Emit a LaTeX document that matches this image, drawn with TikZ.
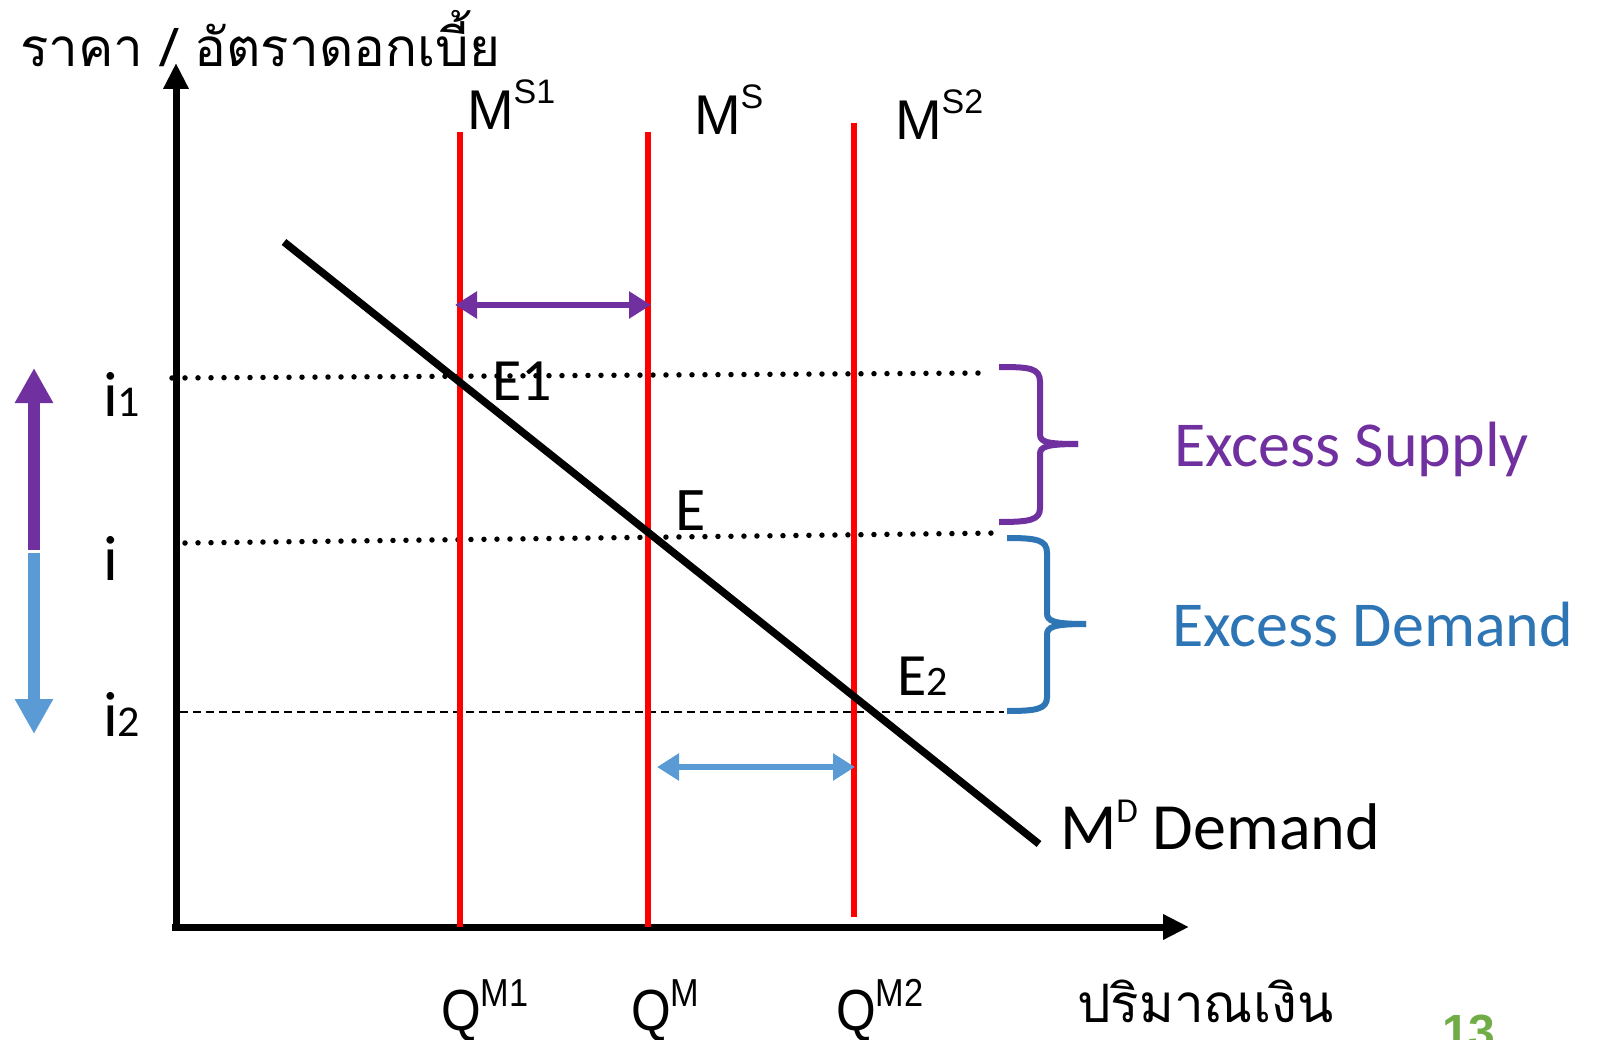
\documentclass[tikz,border=0pt]{standalone}
\usepackage{fontspec}
\usepackage{graphicx}
\setmainfont{Carlito}
\newfontfamily\thaifont[Script=Thai]{Loma}
\newfontfamily\arialfont{Liberation Sans}
\usetikzlibrary{arrows.meta}
\definecolor{mpurple}{HTML}{7030A0}
\definecolor{lblue}{HTML}{5B9BD5}
\definecolor{dblue}{HTML}{2E75B6}
\definecolor{mgreen}{HTML}{70AD47}
\newcommand{\fs}[1]{\fontsize{#1}{#1}\selectfont}
\newcommand{\msup}[4]{#1{\fs{#3}\raisebox{#4pt}{#2}}}
\begin{document}
\begin{tikzpicture}[x=1pt,y=-1pt,
  lbl/.style={anchor=base west,inner sep=0pt,outer sep=0pt},
  axisline/.style={line width=7pt,-{Triangle[length=26pt,width=24pt]}},
  supplyline/.style={line width=6pt,red},
  demandline/.style={line width=7.5pt,black},
  dotline/.style={line width=5.5pt,line cap=round,dash pattern=on 0pt off 13pt},
  dashline/.style={line width=2pt,dash pattern=on 8pt off 5pt},
  harrow/.style={line width=6pt,{Triangle[length=22pt,width=26pt]}-{Triangle[length=22pt,width=26pt]}},
  varrow/.style={line width=12pt,-{Triangle[length=35pt,width=36pt]}},
  bracepath/.style={line width=6pt,line cap=butt}]
\useasboundingbox (0,0) rectangle (1598,1040);
% axes
\coordinate (O) at (176,927);
\coordinate (ytop) at (176,63);
\coordinate (xend) at (1189,927);
\coordinate (ybot) at (176,931);
\coordinate (xbeg) at (172,927);
\draw[axisline] (ybot) -- (ytop);
\draw[axisline] (xbeg) -- (xend);
% dotted/dashed levels
\coordinate (i1a) at (172,378); \coordinate (i1b) at (985,373);
\coordinate (i0a) at (185,543); \coordinate (i0b) at (999,533);
\coordinate (i2a) at (180,712); \coordinate (i2b) at (1004,712);
\draw[dotline] (i1a) -- (i1b);
\draw[dotline] (i0a) -- (i0b);
\draw[dashline] (i2a) -- (i2b);
% supply lines
\coordinate (s1t) at (460,132); \coordinate (s1b) at (460,927);
\coordinate (s0t) at (648,132); \coordinate (s0b) at (648,927);
\coordinate (s2t) at (854,123); \coordinate (s2b) at (854,917);
\draw[supplyline] (s1t) -- (s1b);
\draw[supplyline] (s0t) -- (s0b);
\draw[supplyline] (s2t) -- (s2b);
% demand
\coordinate (d1) at (284,242); \coordinate (d2) at (1039,844);
\draw[demandline] (d1) -- (d2);
% horizontal arrows
\coordinate (pa1) at (455,305); \coordinate (pa2) at (651,305);
\draw[harrow,mpurple] (pa1) -- (pa2);
\coordinate (ba1) at (657,767); \coordinate (ba2) at (855,767);
\draw[harrow,lblue] (ba1) -- (ba2);
% vertical arrows left
\coordinate (vm) at (34,550); \coordinate (vup) at (34,368);
\coordinate (vm2) at (34,553); \coordinate (vdn) at (34,734);
\draw[varrow,mpurple] (vm) -- (vup);
\draw[varrow,lblue] (vm2) -- (vdn);
% braces
\draw[bracepath,mpurple] (999,367) .. controls (1030,367) and (1040,368) .. (1040,382) -- (1040,434)
   .. controls (1040,442) and (1046,444) .. (1078,444);
\draw[bracepath,mpurple] (1078,444) .. controls (1046,444) and (1040,447) .. (1040,454) -- (1040,508)
   .. controls (1040,520) and (1030,522) .. (999,522);
\draw[bracepath,dblue] (1007,538) .. controls (1037,538) and (1047,540) .. (1047,553) -- (1047,613)
   .. controls (1047,621) and (1053,624) .. (1086,624);
\draw[bracepath,dblue] (1086,624) .. controls (1053,624) and (1047,627) .. (1047,635) -- (1047,697)
   .. controls (1047,709) and (1037,711) .. (1007,711);
% labels
\node[lbl] (title) at (20,67) {\thaifont\fs{53}ราคา / อัตราดอกเบี้ย};
\node[lbl] (ms1) at (467,130) {\arialfont\fs{56}\msup{M}{S1}{34}{26}};
\node[lbl] (ms0) at (694,135) {\arialfont\fs{56}\msup{M}{S}{34}{26}};
\node[lbl] (ms2) at (895,140) {\arialfont\fs{56}\msup{M}{S2}{34}{26}};
\node[lbl] (q1) at (441,1030) {\arialfont\fs{58}\scalebox{0.88}[1]{\msup{Q}{M1}{39}{24}}};
\node[lbl] (q0) at (631,1030) {\arialfont\fs{58}\scalebox{0.88}[1]{\msup{Q}{M}{39}{24}}};
\node[lbl] (q2) at (836,1030) {\arialfont\fs{58}\scalebox{0.88}[1]{\msup{Q}{M2}{39}{24}}};
\node[lbl] (qty) at (1077,1022) {\thaifont\fs{53}ปริมาณเงิน};
\node[lbl] (e1) at (492,400) {\fs{60}E1};
\node[lbl] (e0) at (675,530) {\fs{62}E};
\node[lbl] (e2) at (897,695) {\fs{60}E{\fs{42}2}};
\node[lbl] (li1) at (103,417) {\fs{64}i{\fs{44}1}};
\node[lbl] (li0) at (103,580) {\fs{64}i};
\node[lbl] (li2) at (103,736) {\fs{64}i{\fs{44}2}};
\node[lbl,text=mpurple] (es) at (1174,466) {\fs{64}Excess Supply};
\node[lbl,text=dblue] (ed) at (1172,646) {\fs{64}Excess Demand};
\node[lbl] (md) at (1060,849) {\fs{66}\msup{M}{D}{35}{27} Demand};
\node[lbl,text=mgreen] (pg) at (1442,1048) {\arialfont\bfseries\fs{48}13};
\end{tikzpicture}
\end{document}
